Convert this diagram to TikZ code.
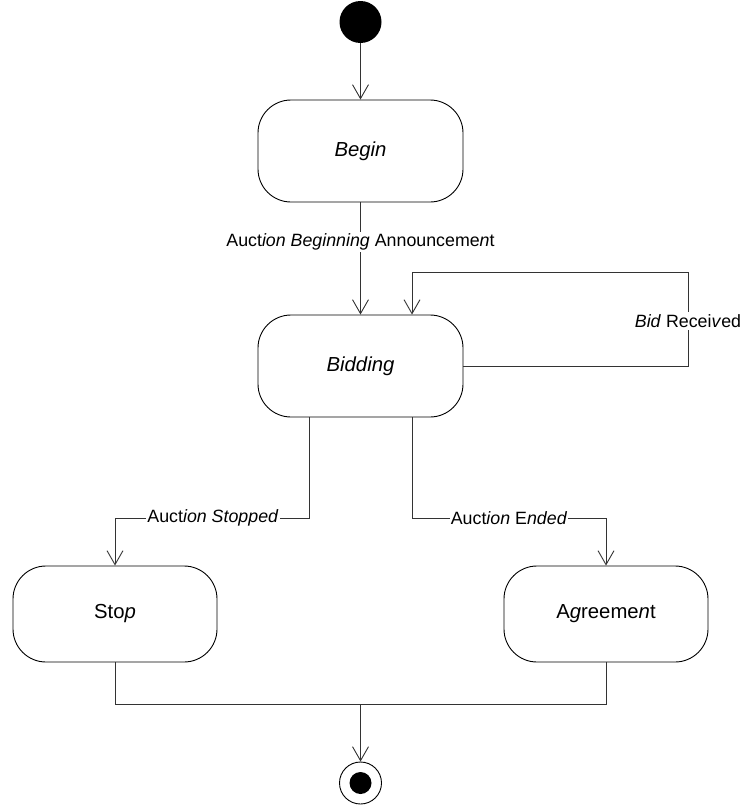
\documentclass[tikz,border=0pt]{standalone}
\usepackage{fontspec}
\setmainfont{Liberation Sans}
\usetikzlibrary{arrows.meta}
\begin{document}
\begin{tikzpicture}[x=1pt,y=-1pt,
  state/.style={draw=black, line width=0.9pt, rectangle, rounded corners=33pt,
    minimum width=205pt, minimum height=102pt, inner sep=0pt,
    font=\fontsize{20.3}{24}\selectfont},
  smallstate/.style={state, minimum width=204pt, minimum height=96pt},
  conn/.style={line width=0.9pt, draw=black!80},
  arr/.style={conn, -{Straight Barb[length=14pt,width=16pt,line width=0.9pt]}},
  lbl/.style={fill=white, inner xsep=1pt, inner ysep=2pt,
    font=\fontsize{17.8}{20}\selectfont}]
\useasboundingbox (0,0) rectangle (748,806);
% initial and final states
\node[circle, fill=black, minimum size=42pt, inner sep=0pt] (init) at (360.5,22) {};
\node[circle, draw=black, line width=0.9pt, minimum size=42pt, inner sep=0pt] (final) at (360.5,783) {};
\node[circle, fill=black, minimum size=22pt, inner sep=0pt] (finaldot) at (final.center) {};
% states
\node[state] (begin) at (360.5,151) {\textit{Begin}};
\node[state] (bidding) at (360.5,366) {\textit{Bidding}};
\node[smallstate] (stop) at (115,614) {Sto\textit{p}};
\node[smallstate] (agree) at (606,614) {A\textit{g}reeme\textit{n}t};
% helper coordinates
\coordinate (loopc) at (688,272);
\coordinate (turnL) at (115,518);
\coordinate (turnR) at (606,518);
\coordinate (merge) at (360.5,704);
% connectors
\draw[arr] (init) -- (begin);
\draw[arr] (begin) -- node[lbl, pos=0.354] (lab1) {Auct\textit{ion Beginning} Announceme\textit{n}t} (bidding);
\draw[arr] (bidding.east) -| (loopc) -| ([xshift=51.5pt]bidding.north);
\node[lbl] (lab2) at (688,321) {\textit{Bid} Recei\textit{v}ed};
\draw[arr] ([xshift=-51.5pt]bidding.south) |- (turnL) -- (stop.north);
\node[lbl] (lab3) at (213,518) {Auct\textit{ion Stopped}};
\draw[arr] ([xshift=51.5pt]bidding.south) |- (turnR) -- (agree.north);
\node[lbl] (lab4) at (509,518) {Auct\textit{ion} E\textit{nded}};
\draw[conn] (stop.south) |- (merge);
\draw[conn] (agree.south) |- (merge);
\draw[arr] (merge) -- (final);
\end{tikzpicture}
\end{document}
